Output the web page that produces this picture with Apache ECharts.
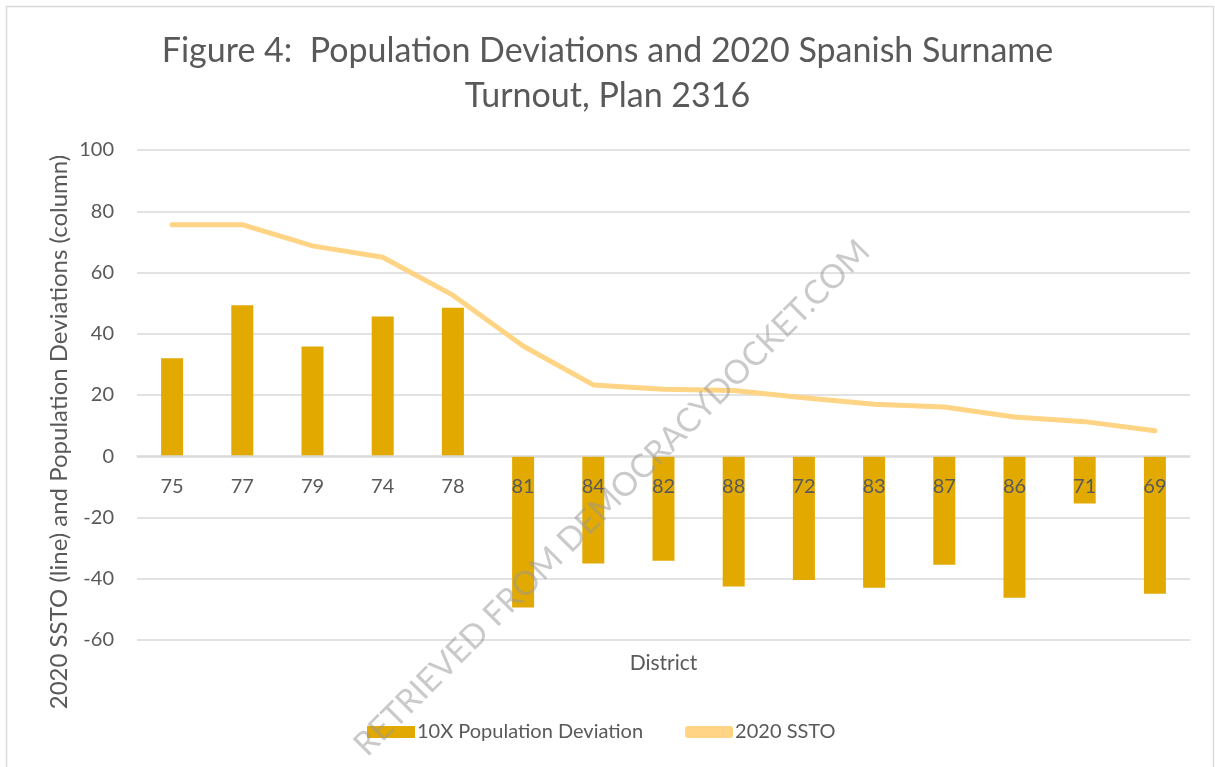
<!DOCTYPE html>
<html>
<head>
<meta charset="utf-8">
<script src="https://cdn.jsdelivr.net/npm/echarts@6/dist/echarts.min.js"></script>
<style>
  html, body { margin: 0; padding: 0; background: #fff; }
  #chart { width: 1215px; height: 767px; }
</style>
</head>
<body>
<div id="chart"></div>
<script>
// 지구 (category)
var districts = ['75', '77', '79', '74', '78', '81', '84', '82', '88', '72', '83', '87', '86', '71', '69'];
// 10X Population Deviation (column)
var popDeviation = [32, 49.3, 35.8, 45.6, 48.5, -49.4, -35, -34.1, -42.5, -40.4, -42.9, -35.4, -46.2, -15.4, -44.9];
// 2020 SSTO (line)
var ssto = [75.6, 75.6, 68.7, 65, 52.6, 36, 23.3, 21.9, 21.5, 19.1, 17, 16.1, 12.8, 11.3, 8.3];
var yTicks = [-60, -40, -20, 0, 20, 40, 60, 80, 100];

var fontFam = 'Lato, "Open Sans", sans-serif';
var textColor = '#595959';

var myChart = echarts.init(document.getElementById('chart'));
var option = {
  animation: false,
  title: {
    text: 'Figure 4:  Population Deviations and 2020 Spanish Surname\nTurnout, Plan 2316',
    left: 'center',
    top: 24,
    textStyle: {
      fontFamily: fontFam,
      fontSize: 34,
      fontWeight: 'normal',
      color: textColor,
      lineHeight: 45
    }
  },
  legend: {
    bottom: 20,
    left: 362,
    itemGap: 42,
    itemWidth: 48,
    itemHeight: 12,
    textStyle: { fontFamily: fontFam, fontSize: 20, color: textColor, padding: [0, 0, 0, -3] },
    data: [
      { name: '10X Population Deviation', icon: 'rect' },
      { name: '2020 SSTO', icon: 'roundRect' }
    ]
  },
  grid: { left: 137, right: 25, top: 150, bottom: 127, outerBoundsMode: 'none' },
  xAxis: {
    type: 'category',
    data: districts,
    position: 'bottom',
    // 0 선 위치로 축을 올림 (-60 ~ 0 구간 높이)
    offset: -184,
    z: 5,
    name: 'District',
    nameLocation: 'middle',
    nameGap: 197,
    nameTextStyle: { fontFamily: fontFam, fontSize: 21, color: textColor },
    axisLine: { onZero: false, lineStyle: { color: '#d9d9d9', width: 1.5 } },
    axisTick: { show: false },
    axisLabel: { margin: 21, fontFamily: fontFam, fontSize: 20, color: textColor }
  },
  yAxis: {
    type: 'value',
    min: yTicks[0],
    max: yTicks[yTicks.length - 1],
    interval: 20,
    axisLine: { show: false },
    axisTick: { show: false },
    axisLabel: { margin: 23, fontFamily: fontFam, fontSize: 20, color: textColor },
    splitLine: { lineStyle: { color: '#d9d9d9', width: 1.5 } }
  },
  graphic: [
    {
      type: 'rect',
      left: 4, top: 4,
      shape: { width: 1207, height: 780 },
      style: { fill: 'none', stroke: '#d9d9d9', lineWidth: 1.5 },
      silent: true
    },
    {
      type: 'text',
      x: 59, y: 432,
      rotation: Math.PI / 2,
      style: {
        text: '2020 SSTO (line) and Population Deviations (column)',
        fontFamily: fontFam,
        fontSize: 24,
        fill: textColor,
        align: 'center',
        verticalAlign: 'middle'
      }
    },
    {
      type: 'text',
      x: 612, y: 498,
      rotation: Math.PI / 4,
      style: {
        text: 'RETRIEVED FROM DEMOCRACYDOCKET.COM',
        fontFamily: fontFam,
        fontSize: 33,
        fill: 'rgba(150,150,150,0.5)',
        align: 'center',
        verticalAlign: 'middle'
      },
      z: 100
    }
  ],
  series: [
    {
      name: '10X Population Deviation',
      type: 'bar',
      data: popDeviation,
      barWidth: 22,
      itemStyle: { color: '#E2AA00' }
    },
    {
      name: '2020 SSTO',
      type: 'line',
      data: ssto,
      symbol: 'none',
      lineStyle: { color: '#FFD484', width: 5, cap: 'round', join: 'round' },
      itemStyle: { color: '#FFD484' }
    }
  ]
};
myChart.setOption(option);

window.addEventListener('resize', function () {
  myChart.resize();
});
</script>
</body>
</html>
